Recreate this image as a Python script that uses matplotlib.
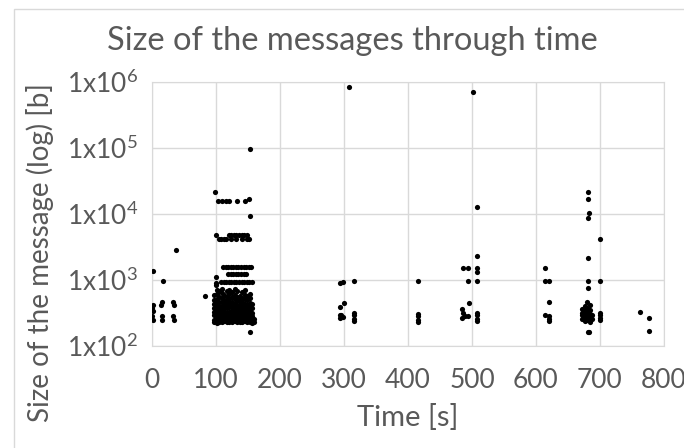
import matplotlib
matplotlib.use("Agg")
import matplotlib.pyplot as plt
from matplotlib.patches import Rectangle

plt.rcParams['font.family'] = ['Lato', 'DejaVu Sans']
plt.rcParams['mathtext.fontset'] = 'custom'
plt.rcParams['mathtext.rm'] = 'Lato'

# ── data (time [s], size [b]) ────────────────────────────────────────
# first seconds
t_start = [2, 17, 37, 1, 0, 1, 0, 1, 15, 14, 15, 15, 33, 34, 33, 34]
s_start = [1380, 980, 2850, 418, 372, 342, 285, 248, 459, 418, 285, 248, 461, 418, 285, 248]

# big burst around 100-160 s : dense bottom block, column by column
burst_cols = [
    (97,  [230, 250, 290, 330, 380, 430, 500, 600]),
    (101, [225, 245, 270, 300, 340, 390, 450, 520, 620, 700]),
    (105, [235, 260, 290, 320, 360, 410, 470, 560, 680]),
    (109, [230, 255, 280, 310, 350, 400, 460, 540, 640, 720]),
    (113, [240, 265, 300, 340, 380, 430, 500, 600]),
    (117, [230, 250, 275, 320, 370, 420, 480, 560, 680]),
    (121, [235, 260, 290, 330, 390, 450, 520, 620, 700]),
    (125, [228, 250, 280, 310, 350, 400, 470, 550, 650]),
    (129, [240, 265, 300, 340, 380, 440, 510, 600, 720]),
    (133, [232, 255, 285, 320, 360, 410, 480, 560, 680]),
    (137, [235, 260, 295, 330, 370, 430, 500, 580]),
    (141, [230, 250, 280, 310, 350, 400, 460, 540, 650]),
    (145, [238, 262, 290, 330, 380, 440, 510, 600, 700]),
    (149, [230, 255, 285, 320, 360, 420, 490, 570]),
    (153, [235, 260, 300, 340, 390, 450, 530, 620]),
    (157, [225, 250, 280, 320, 370, 430]),
    (160, [230, 260]),
]
# burst: upper rows and isolated points
t_burst = [83, 153, 98, 153, 153, 151,
           103, 109, 115, 121, 133, 145,
           100, 120, 124, 128, 132, 136, 140, 144, 148,
           104, 108, 112, 116, 124, 132, 140, 148, 152,
           111, 115, 119, 123, 127, 131, 135, 139, 143, 147, 151, 155,
           119, 123, 127, 131, 135, 139, 143, 147,
           108, 112, 116, 120, 124, 128, 132, 136, 140, 144, 148, 152, 156,
           100, 100, 100]
s_burst = [570, 161, 21800, 97000, 9300, 16800,
           15700, 15700, 15700, 15700, 15700, 15700,
           4800, 4800, 4800, 4800, 4800, 4800, 4800, 4800, 4800,
           4200, 4200, 4200, 4200, 4200, 4200, 4200, 4200, 4200,
           1600, 1600, 1600, 1600, 1600, 1600, 1600, 1600, 1600, 1600, 1600, 1600,
           1230, 1230, 1230, 1230, 1230, 1230, 1230, 1230,
           940, 940, 940, 940, 940, 940, 940, 940, 940, 940, 940, 940, 940,
           1100, 900, 850]

t_300 = [308, 293, 298, 315, 293, 300, 293, 293, 296, 298, 315, 315, 315, 315]
s_300 = [850000, 910, 940, 965, 394, 443, 300, 270, 290, 275, 320, 290, 260, 240]

t_415 = [416, 415, 415, 415, 416]
s_415 = [965, 310, 280, 250, 235]

t_500 = [502, 508, 508, 486, 494, 508, 508, 494, 508, 495,
         484, 486, 489, 485, 494, 508, 508, 508, 508]
s_500 = [700000, 12600, 2340, 1500, 1500, 1540, 1300, 970, 970, 443,
         360, 320, 280, 270, 280, 320, 290, 260, 240]

t_615 = [614, 614, 621, 620, 614, 620, 621, 621]
s_615 = [1540, 965, 965, 460, 290, 260, 280, 240]

t_680 = [682, 682, 683, 682, 700, 682, 682, 700, 682, 681, 683,
         700, 700, 700, 700,
         672, 672, 672, 672, 676, 676, 676, 676, 676,
         680, 680, 680, 680, 680, 684, 684, 684, 684, 684, 687, 687,
         762, 777, 777]
s_680 = [21800, 16900, 10200, 8600, 4180, 2130, 965, 965, 764, 165, 165,
         320, 290, 270, 250,
         360, 320, 290, 260, 400, 340, 300, 270, 240,
         470, 380, 330, 280, 250, 420, 350, 310, 270, 235, 300, 260,
         331, 263, 169]

# ── flatten ─────────────────────────────────────────────────────────
t_all = t_start + t_burst + t_300 + t_415 + t_500 + t_615 + t_680
s_all = s_start + s_burst + s_300 + s_415 + s_500 + s_615 + s_680
for t, sizes in burst_cols:
    t_all += [t] * len(sizes)
    s_all += sizes

GRID = '#d9d9d9'
TXT = '#595959'

fig = plt.figure(figsize=(6.84, 4.48), dpi=100)
fig.patches.append(Rectangle((14 / 684, -0.1), 1.2, 1 - 9 / 448 + 0.1,
                             transform=fig.transFigure, fill=False,
                             edgecolor=GRID, linewidth=1))

ax = fig.add_axes([152 / 684, 1 - 346 / 448, 512 / 684, 264 / 448])
ax.scatter(t_all, s_all, s=14, color='black', linewidths=0, zorder=3)

ax.set_yscale('log')
ax.set_xlim(0, 800)
ax.set_ylim(100, 1e6)
ax.set_xticks(range(0, 801, 100))
ax.set_yticks([1e2, 1e3, 1e4, 1e5, 1e6])
ax.set_yticklabels([r'$\mathregular{1x10^{%d}}$' % e for e in range(2, 7)])
ax.minorticks_off()
ax.grid(True, color=GRID, linewidth=1)
ax.set_axisbelow(True)
for sp in ax.spines.values():
    sp.set_color(GRID)
ax.tick_params(length=0, labelsize=19, colors=TXT)
ax.tick_params(axis='x', pad=16)
ax.tick_params(axis='y', pad=10)

fig.text(408 / 684, 1 - 417 / 448, 'Time [s]', ha='center', va='center',
         fontsize=21, color=TXT)
fig.text(40 / 684, 1 - 253 / 448, 'Size of the message (log) [b]', rotation=90,
         ha='center', va='center', fontsize=20, color=TXT)
fig.text(352 / 684, 1 - 41 / 448, 'Size of the messages through time',
         ha='center', va='center', fontsize=23.5, color=TXT)

fig.savefig('out.png', dpi=100)
